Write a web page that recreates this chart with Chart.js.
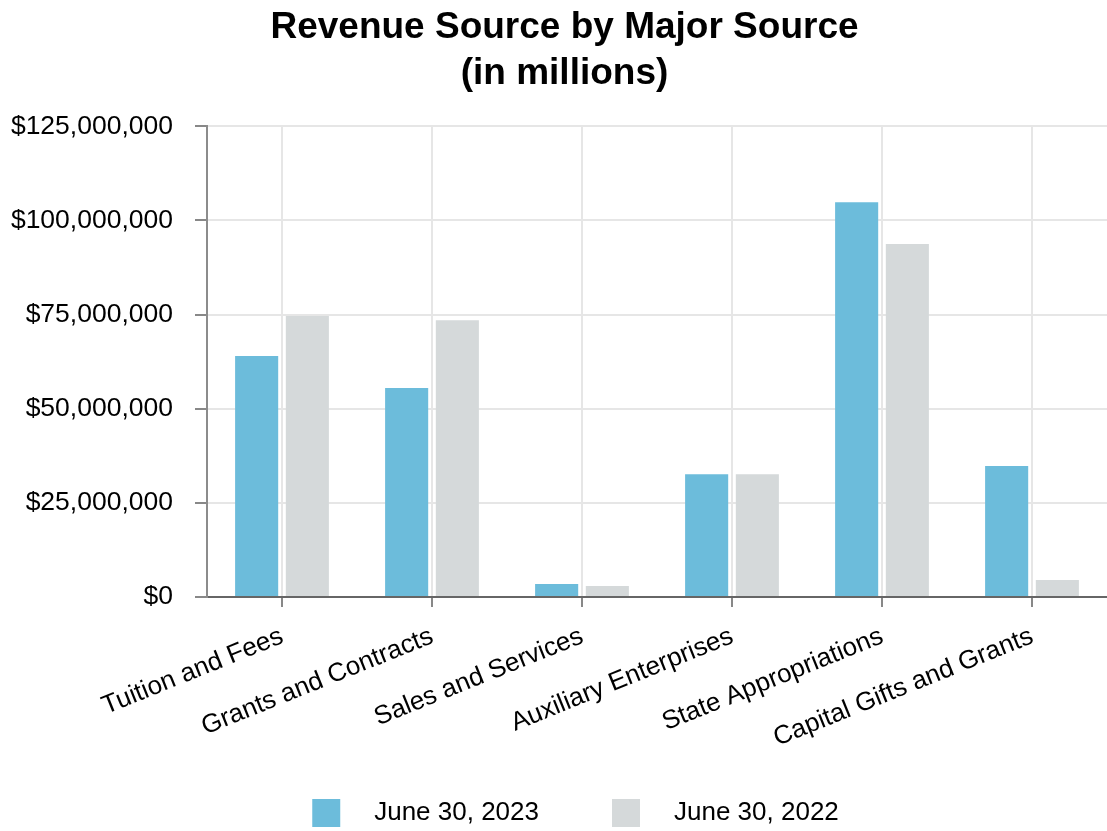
<!DOCTYPE html>
<html>
<head>
<meta charset="utf-8">
<script src="https://cdn.jsdelivr.net/npm/chart.js@4.4.0/dist/chart.umd.min.js"></script>
<style>
  html, body { margin: 0; padding: 0; background: #fff; }
  #wrap { width: 1107px; height: 831px; }
</style>
</head>
<body>
<div id="wrap"><canvas id="chart" width="1107" height="831"></canvas></div>
<script>
'use strict';

// Revenue by source (dollars)
var categories = [
  'Tuition and Fees',
  'Grants and Contracts',
  'Sales and Services',
  'Auxiliary Enterprises',
  'State Appropriations',
  'Capital Gifts and Grants'
];
var revenue2023 = [64000000, 55500000, 3450000, 32600000, 104800000, 34800000];
var revenue2022 = [74600000, 73500000, 2900000, 32600000, 93700000, 4500000];
var seriesLabels = ['June 30, 2023', 'June 30, 2022'];
var seriesColors = ['#6cbcdb', '#d5d9da'];

var FONT = '"Liberation Sans", Arial, sans-serif';

// Legend swatch: a square with blank space either side, so the
// legend gets the wide gaps the original has.
var SWATCH_LEFT = 44;
var SWATCH_SIZE = 28;
var SWATCH_RIGHT = 21;

function makeSwatch(color) {
  var c = document.createElement('canvas');
  c.width = SWATCH_LEFT + SWATCH_SIZE + SWATCH_RIGHT;
  c.height = SWATCH_SIZE;
  var g = c.getContext('2d');
  g.fillStyle = color;
  g.fillRect(SWATCH_LEFT, 0, SWATCH_SIZE, SWATCH_SIZE);
  return c;
}

function money(v) {
  return '$' + Number(v).toLocaleString('en-US');
}

// The original title sits a little right of the canvas centre.
var titleNudge = {
  id: 'titleNudge',
  afterLayout: function(chart) {
    if (chart.titleBlock) {
      chart.titleBlock.left += 22;
    }
  }
};

var ctx = document.getElementById('chart').getContext('2d');
new Chart(ctx, {
  type: 'bar',
  data: {
    labels: categories,
    datasets: [
      {
        label: seriesLabels[0],
        data: revenue2023,
        backgroundColor: seriesColors[0]
      },
      {
        label: seriesLabels[1],
        data: revenue2022,
        backgroundColor: seriesColors[1]
      }
    ]
  },
  plugins: [titleNudge],
  options: {
    responsive: false,
    animation: false,
    layout: { padding: { left: 0, right: 0, top: 0, bottom: -5 } },
    datasets: {
      bar: { categoryPercentage: 0.676, barPercentage: 0.85 }
    },
    plugins: {
      title: {
        display: true,
        text: ['Revenue Source by Major Source', '(in millions)'],
        color: '#000',
        font: { family: FONT, size: 37, weight: 'bold', lineHeight: 1.26 },
        padding: { top: 4, bottom: 29 }
      },
      legend: {
        position: 'bottom',
        labels: {
          color: '#000',
          font: { family: FONT, size: 26 },
          usePointStyle: true,
          pointStyleWidth: SWATCH_LEFT + SWATCH_SIZE + SWATCH_RIGHT,
          padding: 29,
          generateLabels: function(chart) {
            var items = Chart.defaults.plugins.legend.labels.generateLabels(chart);
            items.forEach(function(item, i) {
              item.pointStyle = makeSwatch(seriesColors[i]);
            });
            return items;
          }
        }
      },
      tooltip: { enabled: false }
    },
    scales: {
      x: {
        offset: true,
        grid: {
          offset: false,
          color: '#e6e6e6',
          lineWidth: 2,
          tickColor: '#888',
          tickLength: 10
        },
        border: { color: '#666', width: 2 },
        ticks: {
          color: '#000',
          font: { family: FONT, size: 26 },
          minRotation: 22,
          maxRotation: 22,
          padding: 14
        },
        afterFit: function(scale) { scale.height = 174; }
      },
      y: {
        min: 0,
        max: 125000000,
        grid: {
          color: '#e6e6e6',
          lineWidth: 2,
          tickColor: '#888',
          tickLength: 12
        },
        border: { color: '#8c8c8c', width: 2 },
        ticks: {
          stepSize: 25000000,
          color: '#000',
          font: { family: FONT, size: 26.5 },
          padding: 22,
          callback: function(v) { return money(v); }
        },
        afterFit: function(scale) { scale.width = 207; }
      }
    }
  }
});
</script>
</body>
</html>
